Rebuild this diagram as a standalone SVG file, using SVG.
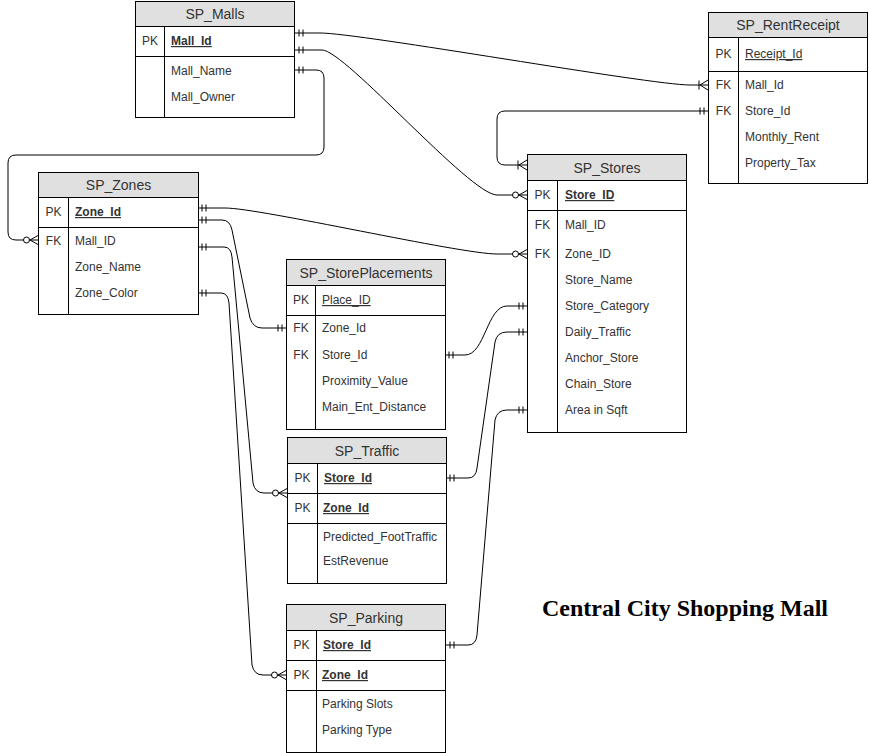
<svg xmlns="http://www.w3.org/2000/svg" width="869" height="753" viewBox="0 0 869 753">
<defs>
<style>
.bx{fill:#fff;stroke:#000;stroke-width:1}
.hd{fill:#e0e0e0;stroke:#000;stroke-width:1}
.ln{stroke:#000;stroke-width:1;fill:none}
.t{font-family:"Liberation Sans",Arial,sans-serif;font-size:12px;fill:#333}
.h{font-size:14px;text-anchor:middle}
.k{text-anchor:middle}
.pk{font-weight:bold;text-decoration:underline}
.u{text-decoration:underline}
.c{fill:none;stroke:#000;stroke-width:1}
.title{font-family:"Liberation Serif","Times New Roman",serif;font-size:24px;font-weight:bold;fill:#000}
</style>
<marker id="one" markerUnits="userSpaceOnUse" markerWidth="20" markerHeight="20" refX="0" refY="0" orient="auto-start-reverse" overflow="visible">
<path d="M-4,-3.5V3.5M-8,-3.5V3.5" stroke="#000" fill="none"/>
</marker>
<marker id="zmany" markerUnits="userSpaceOnUse" markerWidth="20" markerHeight="20" refX="0" refY="0" orient="auto-start-reverse" overflow="visible">
<path d="M-8,0L0,-4.5M-8,0L0,4.5" stroke="#000" fill="none"/>
<circle cx="-11.5" cy="0" r="3" fill="#fff" stroke="#000"/>
</marker>
<marker id="omany" markerUnits="userSpaceOnUse" markerWidth="20" markerHeight="20" refX="0" refY="0" orient="auto-start-reverse" overflow="visible">
<path d="M-8,0L0,-5M-8,0L0,5M-9,-4.5V4.5" stroke="#000" fill="none"/>
</marker>
</defs>
<rect width="869" height="753" fill="#fff"/>

<g id="connectors">
<path class="c" d="M295,33H320C360,33 650,85 690,85H708" marker-start="url(#one)" marker-end="url(#omany)"/>
<path class="c" d="M295,50H322C345,50 470,195 497,195H527" marker-start="url(#one)" marker-end="url(#zmany)"/>
<path class="c" d="M295,70H316Q324,70 324,78V147Q324,155 316,155H16Q8,155 8,163V232Q8,240 16,240H38" marker-start="url(#one)" marker-end="url(#zmany)"/>
<path class="c" d="M708,111H505Q497,111 497,119V157Q497,165 505,165H527" marker-start="url(#one)" marker-end="url(#omany)"/>
<path class="c" d="M198,208H225C260,208 460,254 497,254H527" marker-start="url(#one)" marker-end="url(#zmany)"/>
<path class="c" d="M198,220H222Q230,220 232,230L250,318Q253,328 262,328H286" marker-start="url(#one)" marker-end="url(#one)"/>
<path class="c" d="M198,247H224Q231,247 232,257L253,483Q255,493 264,493H287" marker-start="url(#one)" marker-end="url(#zmany)"/>
<path class="c" d="M198,293H221Q228,293 229,303L252,665Q254,675 263,675H286" marker-start="url(#one)" marker-end="url(#zmany)"/>
<path class="c" d="M445,355H465C485,355 487,306 507,306H527" marker-start="url(#one)" marker-end="url(#one)"/>
<path class="c" d="M446,478H468Q476,478 477,468L495,342Q497,332 507,332H527" marker-start="url(#one)" marker-end="url(#one)"/>
<path class="c" d="M446,645H468Q476,645 477,635L495,420Q497,410 507,410H527" marker-start="url(#one)" marker-end="url(#one)"/>
</g>

<g id="SP_Malls">
<rect class="bx" x="135.5" y="1.5" width="159" height="116"/>
<rect class="hd" x="135.5" y="1.5" width="159" height="25"/>
<path class="ln" d="M135.5,56.5H294.5M164.5,26.5V117.5"/>
<text class="t h" x="215" y="19">SP_Malls</text>
<text class="t k" x="150" y="45">PK</text>
<text class="t pk" x="171" y="45">Mall_Id</text>
<text class="t" x="171" y="75">Mall_Name</text>
<text class="t" x="171" y="101">Mall_Owner</text>
</g>

<g id="SP_RentReceipt">
<rect class="bx" x="708.5" y="12.5" width="159" height="171"/>
<rect class="hd" x="708.5" y="12.5" width="159" height="25"/>
<path class="ln" d="M708.5,71.5H867.5M738.5,37.5V183.5"/>
<text class="t h" x="788" y="30">SP_RentReceipt</text>
<text class="t k" x="723.5" y="58">PK</text>
<text class="t u" x="745" y="58">Receipt_Id</text>
<text class="t k" x="723.5" y="89">FK</text>
<text class="t" x="745" y="89">Mall_Id</text>
<text class="t k" x="723.5" y="115">FK</text>
<text class="t" x="745" y="115">Store_Id</text>
<text class="t" x="745" y="141">Monthly_Rent</text>
<text class="t" x="745" y="167">Property_Tax</text>
</g>

<g id="SP_Stores">
<rect class="bx" x="527.5" y="154.5" width="159" height="278"/>
<rect class="hd" x="527.5" y="154.5" width="159" height="26"/>
<path class="ln" d="M527.5,210.5H686.5M557.5,180.5V432.5"/>
<text class="t h" x="607" y="172.5">SP_Stores</text>
<text class="t k" x="542.5" y="199">PK</text>
<text class="t pk" x="565" y="199">Store_ID</text>
<text class="t k" x="542.5" y="229">FK</text>
<text class="t" x="565" y="229">Mall_ID</text>
<text class="t k" x="542.5" y="258">FK</text>
<text class="t" x="565" y="258">Zone_ID</text>
<text class="t" x="565" y="284">Store_Name</text>
<text class="t" x="565" y="310">Store_Category</text>
<text class="t" x="565" y="336">Daily_Traffic</text>
<text class="t" x="565" y="362">Anchor_Store</text>
<text class="t" x="565" y="388">Chain_Store</text>
<text class="t" x="565" y="414">Area in Sqft</text>
</g>

<g id="SP_Zones">
<rect class="bx" x="38.5" y="172.5" width="160" height="142"/>
<rect class="hd" x="38.5" y="172.5" width="160" height="25"/>
<path class="ln" d="M38.5,227.5H198.5M68.5,197.5V314.5"/>
<text class="t h" x="118.5" y="190">SP_Zones</text>
<text class="t k" x="53.5" y="216">PK</text>
<text class="t pk" x="75" y="216">Zone_Id</text>
<text class="t k" x="53.5" y="245">FK</text>
<text class="t" x="75" y="245">Mall_ID</text>
<text class="t" x="75" y="271">Zone_Name</text>
<text class="t" x="75" y="297">Zone_Color</text>
</g>

<g id="SP_StorePlacements">
<rect class="bx" x="286.5" y="259.5" width="159" height="170"/>
<rect class="hd" x="286.5" y="259.5" width="159" height="26"/>
<path class="ln" d="M286.5,315.5H445.5M315.5,285.5V429.5"/>
<text class="t h" x="366" y="277.5">SP_StorePlacements</text>
<text class="t k" x="301" y="304">PK</text>
<text class="t u" x="322" y="304">Place_ID</text>
<text class="t k" x="301" y="332">FK</text>
<text class="t" x="322" y="332">Zone_Id</text>
<text class="t k" x="301" y="359">FK</text>
<text class="t" x="322" y="359">Store_Id</text>
<text class="t" x="322" y="385">Proximity_Value</text>
<text class="t" x="322" y="411">Main_Ent_Distance</text>
</g>

<g id="SP_Traffic">
<rect class="bx" x="287.5" y="437.5" width="159" height="146"/>
<rect class="hd" x="287.5" y="437.5" width="159" height="26"/>
<path class="ln" d="M287.5,493.5H446.5M287.5,523.5H446.5M317.5,463.5V583.5"/>
<text class="t h" x="367" y="455.5">SP_Traffic</text>
<text class="t k" x="302.5" y="482">PK</text>
<text class="t pk" x="324" y="482">Store_Id</text>
<text class="t k" x="302.5" y="512">PK</text>
<text class="t pk" x="323" y="512">Zone_Id</text>
<text class="t" x="323" y="541">Predicted_FootTraffic</text>
<text class="t" x="323" y="565">EstRevenue</text>
</g>

<g id="SP_Parking">
<rect class="bx" x="286.5" y="604.5" width="159" height="148"/>
<rect class="hd" x="286.5" y="604.5" width="159" height="26"/>
<path class="ln" d="M286.5,660.5H445.5M286.5,690.5H445.5M316.5,630.5V752.5"/>
<text class="t h" x="366" y="622.5">SP_Parking</text>
<text class="t k" x="301.5" y="649">PK</text>
<text class="t pk" x="323" y="649">Store_Id</text>
<text class="t k" x="301.5" y="679">PK</text>
<text class="t pk" x="322" y="679">Zone_Id</text>
<text class="t" x="322" y="708">Parking Slots</text>
<text class="t" x="322" y="734">Parking Type</text>
</g>

<text class="title" x="542" y="616">Central City Shopping Mall</text>
</svg>
